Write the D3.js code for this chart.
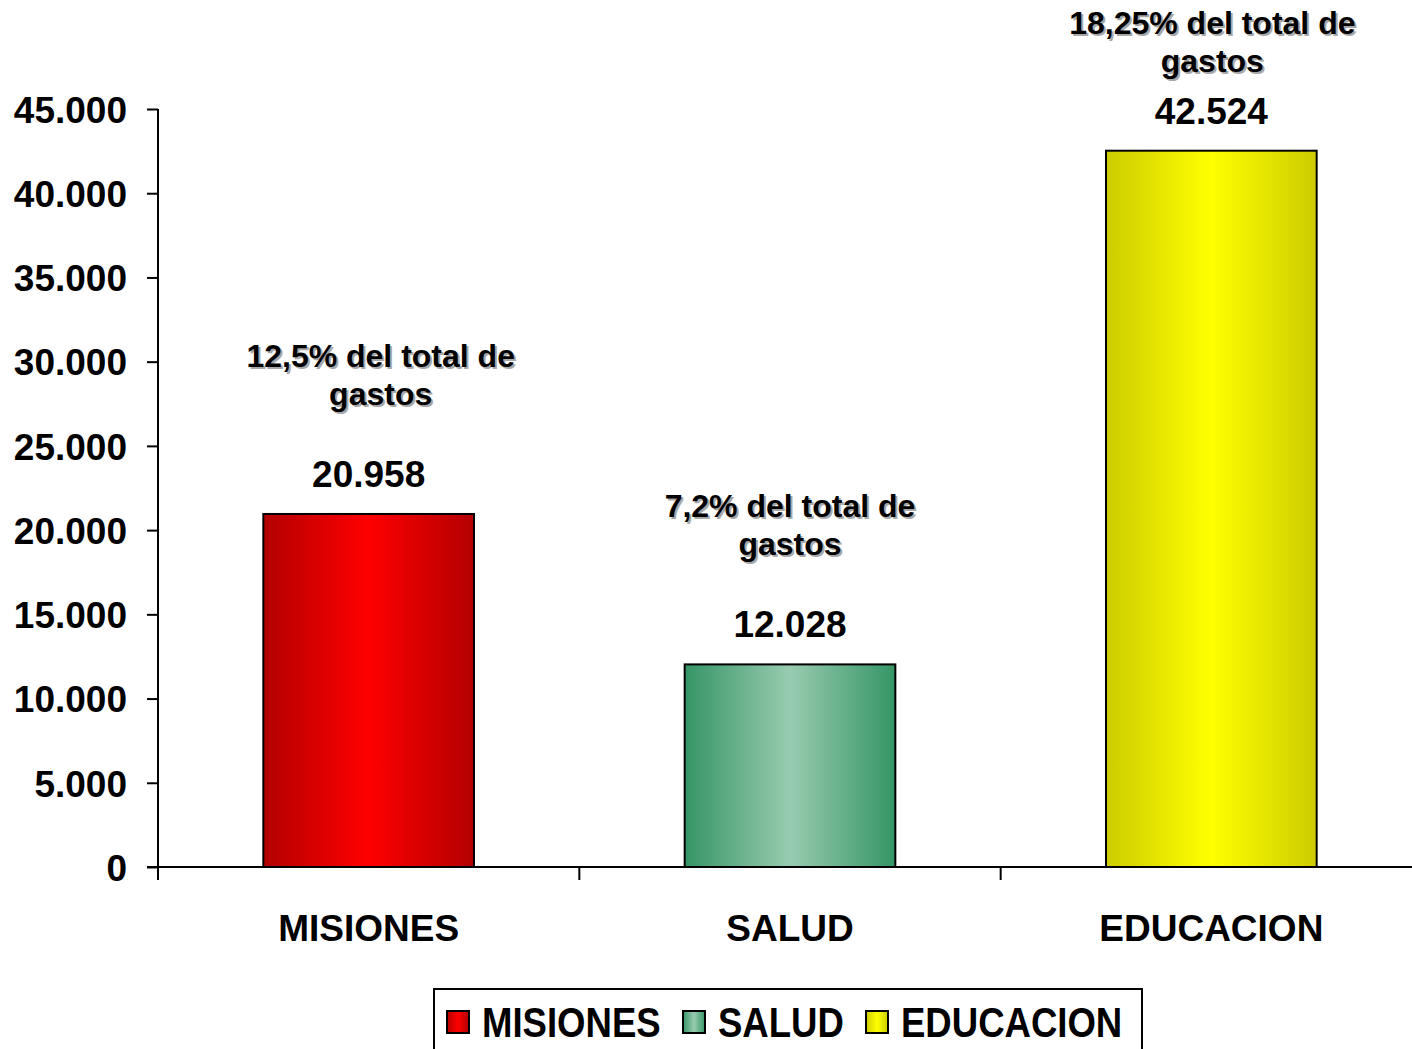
<!DOCTYPE html>
<html>
<head>
<meta charset="utf-8">
<script src="https://cdn.jsdelivr.net/npm/d3@7"></script>
<style>
  html, body { margin: 0; padding: 0; background: #fff; }
  svg { display: block; font-family: "Liberation Sans", Arial, sans-serif; font-weight: bold; }
</style>
</head>
<body>
<svg id="chart" width="1412" height="1049"></svg>
<script>
// Gasto por área (millones)
const categories = ["MISIONES", "SALUD", "EDUCACION"];
const values = [20958, 12028, 42524];
const shares = ["12,5% del total de", "7,2% del total de", "18,25% del total de"];
const shareSecondLine = "gastos";
const yTicks = [0, 5000, 10000, 15000, 20000, 25000, 30000, 35000, 40000, 45000];

// Relleno de cada barra: bordes oscuros, centro brillante
const fills = {
  MISIONES:  { edge: "#b30000", mid: "#ff0000" },
  SALUD:     { edge: "#359565", mid: "#98cbb0" },
  EDUCACION: { edge: "#cccc00", mid: "#ffff00" }
};
// Desplazamiento horizontal de cada nota de porcentaje respecto al centro de su barra
const noteShift = { MISIONES: 12, SALUD: 0, EDUCACION: 1 };

const svg = d3.select("#chart");
const plotLeft = 158, plotRight = 1422, plotTop = 109, plotBottom = 867;

const loc = d3.formatLocale({ decimal: ",", thousands: ".", grouping: [3], currency: ["", ""] });
const fmt = loc.format(",d");

const x = d3.scaleBand().domain(categories).range([plotLeft, plotRight]).paddingInner(0.5).paddingOuter(0.25);
const y = d3.scaleLinear().domain([0, 45000]).range([plotBottom, plotTop]);

// Degradados horizontales
const defs = svg.append("defs");
categories.forEach((c, i) => {
  const g = defs.append("linearGradient").attr("id", "grad" + i).attr("x1", "0%").attr("x2", "100%").attr("y1", "0%").attr("y2", "0%");
  g.append("stop").attr("offset", "0%").attr("stop-color", fills[c].edge);
  g.append("stop").attr("offset", "50%").attr("stop-color", fills[c].mid);
  g.append("stop").attr("offset", "100%").attr("stop-color", fills[c].edge);
});

// Eje Y
const yAxis = d3.axisLeft(y).tickValues(yTicks).tickSize(11).tickPadding(31).tickFormat(fmt);
const gy = svg.append("g").attr("transform", `translate(${plotLeft},0)`).call(yAxis);
gy.select(".domain").remove();
gy.selectAll(".tick line").attr("stroke", "#000").attr("stroke-width", 2);
gy.selectAll(".tick text")
  .attr("font-size", 37).attr("font-family", "Liberation Sans, Arial, sans-serif").attr("font-weight", "bold")
  .attr("fill", "#000").attr("x", -31).attr("dy", "0.36em");
svg.append("line").attr("x1", plotLeft).attr("x2", plotLeft).attr("y1", plotTop).attr("y2", plotBottom + 13)
  .attr("stroke", "#000").attr("stroke-width", 2);

// Eje X
svg.append("line").attr("x1", plotLeft - 11).attr("x2", plotRight).attr("y1", plotBottom).attr("y2", plotBottom)
  .attr("stroke", "#000").attr("stroke-width", 2);
categories.forEach((c, i) => {
  const bx = plotLeft + i * x.step();
  svg.append("line").attr("x1", bx).attr("x2", bx).attr("y1", plotBottom).attr("y2", plotBottom + 13)
    .attr("stroke", "#000").attr("stroke-width", 2);
});

// Barras
svg.append("g").selectAll("rect").data(categories).join("rect")
  .attr("x", c => x(c)).attr("width", x.bandwidth())
  .attr("y", (c, i) => y(values[i])).attr("height", (c, i) => plotBottom - y(values[i]))
  .attr("fill", (c, i) => `url(#grad${i})`)
  .attr("stroke", "#000").attr("stroke-width", 2);

function centeredText(g, str, cx, by, size, color) {
  return g.append("text")
    .attr("x", cx).attr("y", by)
    .attr("text-anchor", "middle").attr("font-size", size).attr("fill", color || "#000")
    .text(str);
}

// Etiquetas de categoría
const gl = svg.append("g");
categories.forEach(c => centeredText(gl, c, x(c) + x.bandwidth() / 2, 941, 37));

// Valores y porcentajes sobre las barras
const ga = svg.append("g");
categories.forEach((c, i) => {
  const cx = x(c) + x.bandwidth() / 2;
  const barTop = y(values[i]);
  centeredText(ga, fmt(values[i]), cx, barTop - 27, 37);
  const nx = cx + noteShift[c];
  const l1 = Math.max(barTop - 147, 34);
  const l2 = l1 + 38;
  [[shares[i], l1], [shareSecondLine, l2]].forEach(([s, by]) => {
    centeredText(ga, s, nx + 2, by + 2, 32, "#a8a8a8");
    centeredText(ga, s, nx, by, 32, "#000");
  });
});

// Leyenda
const lg = svg.append("g");
lg.append("rect").attr("x", 434).attr("y", 989).attr("width", 708).attr("height", 80)
  .attr("fill", "#fff").attr("stroke", "#000").attr("stroke-width", 2);
const legendX = [447, 683, 866];
categories.forEach((c, i) => {
  lg.append("rect").attr("x", legendX[i]).attr("y", 1011).attr("width", 22).attr("height", 22)
    .attr("fill", `url(#grad${i})`).attr("stroke", "#000").attr("stroke-width", 2);
  lg.append("text")
    .attr("transform", `translate(${legendX[i] + 35},1037) scale(0.87,1)`)
    .attr("font-size", 42).attr("fill", "#000").text(c);
});
</script>
</body>
</html>
